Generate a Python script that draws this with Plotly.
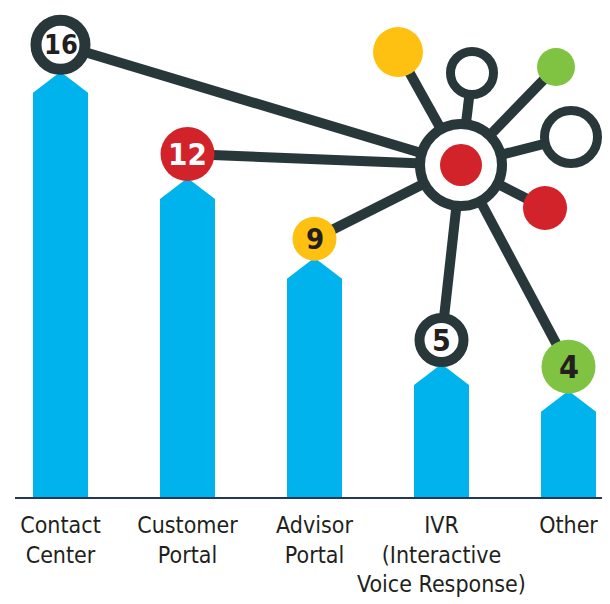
import plotly.graph_objects as go

# ---- data ----
categories = ["Contact<br>Center", "Customer<br>Portal", "Advisor<br>Portal",
              "IVR<br>(Interactive<br>Voice Response)", "Other"]
values = [16, 12, 9, 5, 4]
value_labels = ["16", "12", "9", "5", "4"]

# ---- styling ----
CYAN = "#00B3EC"
DARK = "#283739"
RED = "#D2232A"
YELLOW = "#FEC111"
GREEN = "#80C342"
TEXT = "#231F20"
FONT = "DejaVu Sans Condensed, DejaVu Sans, sans-serif"

OFF = 8                      # page body margin
PAGE_W, PAGE_H = 610, 604
W, H = PAGE_W - OFF, PAGE_H - OFF
BASE_PX = 497                # baseline, page pixels
LEFT_PX = 15                 # plot left edge, page pixels
ML, MR, MT = LEFT_PX - OFF, 0, 0
MB = H - (BASE_PX - OFF)
PLOT_H = BASE_PX - OFF
X0PX, XSTEP = 60.5, 127.0
SCALE = 26.58
Y_MAX = PLOT_H / SCALE
x_range = [-(X0PX - LEFT_PX) / XSTEP, (PAGE_W - X0PX) / XSTEP]
BAR_W = 55 / XSTEP
TIP = 21 / SCALE

# circle style per bar: (filled?, colour, outer radius px, text colour, font size)
circle_styles = [
    (False, DARK, 30, TEXT, 27),
    (True, RED, 27, "white", 31),
    (True, YELLOW, 22, TEXT, 29),
    (False, DARK, 27, TEXT, 30),
    (True, GREEN, 27, TEXT, 32),
]

xs = list(range(len(values)))
fig = go.Figure()
fig.add_trace(go.Bar(x=xs, y=[v - TIP for v in values], width=BAR_W,
                     marker=dict(color=CYAN, line=dict(width=0)),
                     hoverinfo="skip"))
for x, v in zip(xs, values):
    yb = v - TIP - 1.5 / SCALE
    fig.add_trace(go.Scatter(
        x=[x - BAR_W / 2, x - BAR_W / 2, x, x + BAR_W / 2, x + BAR_W / 2, x - BAR_W / 2],
        y=[yb, v - TIP, v, v - TIP, yb, yb],
        fill="toself", fillcolor=CYAN, mode="lines",
        line=dict(width=0, color=CYAN), hoverinfo="skip"))

def px_to_data(px, py):
    return (px - X0PX) / XSTEP, (BASE_PX - py) / SCALE

shapes = []
annotations = []

hx, hy = px_to_data(461, 165)

# satellites: (px, py, radius, filled, colour)
satellites = [
    (398, 52, 25, True, YELLOW),
    (472, 73, 26, False, DARK),
    (556, 67, 19, True, GREEN),
    (571, 137, 31, False, DARK),
    (545, 208, 22, True, RED),
]

LW = 10
centers = []
for x, v, st in zip(xs, values, circle_styles):
    r = st[2]
    cy = v + (r - 3) / SCALE
    centers.append((x, cy))
    shapes.append(dict(type="line", xref="x", yref="y", x0=hx, y0=hy, x1=x, y1=cy,
                       line=dict(color=DARK, width=LW), layer="above"))
for (px, py, r, filled, col) in satellites:
    sx, sy = px_to_data(px, py)
    shapes.append(dict(type="line", xref="x", yref="y", x0=hx, y0=hy, x1=sx, y1=sy,
                       line=dict(color=DARK, width=LW), layer="above"))

def circle(xc, yc, r, filled, col, lw=LW):
    if filled:
        return dict(type="circle", xref="x", yref="y", xsizemode="pixel", ysizemode="pixel",
                    xanchor=xc, yanchor=yc, x0=-r, x1=r, y0=-r, y1=r,
                    fillcolor=col, line=dict(width=0), layer="above")
    rr = r - lw / 2
    return dict(type="circle", xref="x", yref="y", xsizemode="pixel", ysizemode="pixel",
                xanchor=xc, yanchor=yc, x0=-rr, x1=rr, y0=-rr, y1=rr,
                fillcolor="white", line=dict(width=lw, color=col), layer="above")

for (px, py, r, filled, col) in satellites:
    sx, sy = px_to_data(px, py)
    shapes.append(circle(sx, sy, r, filled, col, 9))

# hub
shapes.append(circle(hx, hy, 46, False, DARK, 10))
shapes.append(circle(hx, hy, 21, True, RED))

for (cx, cy), st, lab in zip(centers, circle_styles, value_labels):
    filled, col, r, tcol, fs = st
    shapes.append(circle(cx, cy, r, filled, col, 11 if r == 30 else 10))
    annotations.append(dict(x=cx, y=cy, xref="x", yref="y", text="<b>" + lab + "</b>",
                            showarrow=False, yshift=0,
                            font=dict(family=FONT, size=fs, color=tcol)))

fig.update_layout(
    width=W, height=H, margin=dict(l=ML, r=MR, t=MT, b=MB),
    paper_bgcolor="white", plot_bgcolor="white",
    showlegend=False, bargap=0,
    shapes=shapes, annotations=annotations,
    xaxis=dict(range=x_range, tickmode="array", tickvals=xs, ticktext=categories,
               showgrid=False, zeroline=False, showline=True, linecolor="#22385A",
               linewidth=2, ticks="", ticklabelstandoff=6,
               tickfont=dict(family=FONT, size=23, color=TEXT),
               fixedrange=True),
    yaxis=dict(range=[0, Y_MAX], visible=False, fixedrange=True),
)
fig.write_html("out.html")
